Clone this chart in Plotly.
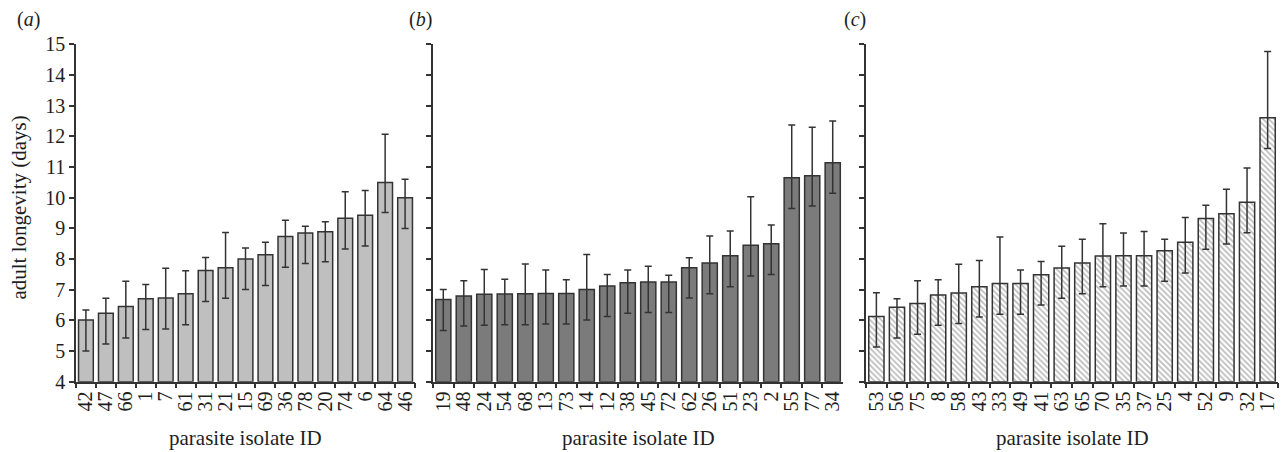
import plotly.graph_objects as go

ids_a = ["42","47","66","1","7","61","31","21","15","69","36","78","20","74","6","64","46"]
mean_a = [6.01,6.23,6.45,6.71,6.73,6.87,7.63,7.72,8.0,8.14,8.74,8.85,8.89,9.33,9.43,10.5,10.0]
up_a = [0.33,0.49,0.83,0.46,0.97,0.75,0.42,1.15,0.36,0.41,0.53,0.22,0.33,0.87,0.81,1.57,0.6]
down_a = [1.01,1.0,1.02,1.01,1.01,1.01,1.01,1.0,0.99,1.0,1.01,0.99,0.98,1.0,1.0,0.98,1.0]

ids_b = ["19","48","24","54","68","13","73","14","12","38","45","72","62","26","51","23","2","55","77","34"]
mean_b = [6.68,6.80,6.85,6.86,6.87,6.88,6.88,7.01,7.12,7.23,7.25,7.25,7.72,7.87,8.11,8.45,8.5,10.65,10.72,11.14]
up_b = [0.33,0.49,0.81,0.48,0.97,0.76,0.45,1.14,0.38,0.41,0.52,0.22,0.32,0.88,0.81,1.58,0.61,1.72,1.58,1.36]
down_b = [1.01,0.98,1.01,1.0,1.01,1.0,1.0,1.0,0.99,1.0,0.99,0.99,0.99,1.0,1.01,1.0,1.0,1.0,0.99,0.99]

ids_c = ["53","56","75","8","58","43","33","49","41","63","65","70","35","37","25","4","52","9","32","17"]
mean_c = [6.13,6.43,6.55,6.83,6.89,7.1,7.2,7.2,7.49,7.71,7.87,8.1,8.11,8.11,8.27,8.55,9.32,9.48,9.85,12.61]
up_c = [0.77,0.28,0.74,0.5,0.94,0.85,1.52,0.44,0.43,0.71,0.78,1.05,0.74,0.79,0.38,0.81,0.44,0.8,1.12,2.16]
down_c = [1.0,1.0,1.0,0.99,0.99,0.99,1.0,1.0,0.99,0.99,1.0,1.0,0.99,0.99,0.99,1.0,1.0,0.99,0.99,1.0]

y_ticks = [4,5,6,7,8,9,10,11,12,13,14,15]
panel_labels = ["a", "b", "c"]
x_title = "parasite isolate ID"
y_title = "adult longevity (days)"

FONT = "Liberation Serif, Times New Roman, serif"
EDGE = "#333333"
TXT = "#1e1e1e"

fig = go.Figure()

panels = [
    (ids_a, mean_a, up_a, down_a, dict(color="#bfbfbf"), "x", "y"),
    (ids_b, mean_b, up_b, down_b, dict(color="#7b7b7b"), "x2", "y2"),
    (ids_c, mean_c, up_c, down_c,
     dict(color="white", pattern=dict(shape="\\", fgcolor="#747474", bgcolor="white", size=4, solidity=0.4)),
     "x3", "y3"),
]

for ids, mean, up, down, mk, xa, ya in panels:
    fig.add_trace(go.Bar(
        x=ids, y=[m - 4 for m in mean], base=4,
        marker=dict(**mk, line=dict(color=EDGE, width=1.5)),
        error_y=dict(type="data", symmetric=False, array=up, arrayminus=down,
                     color=EDGE, thickness=1.5, width=3.5),
        xaxis=xa, yaxis=ya, showlegend=False,
    ))

domains = [(0.0591, 0.323), (0.337, 0.656), (0.674, 0.9945)]
ydom = [0.1555, 0.9016]

layout = dict(
    width=1285, height=452, autosize=False,
    margin=dict(l=0, r=0, t=0, b=0, pad=0),
    paper_bgcolor="white", plot_bgcolor="white",
    bargap=0.26, showlegend=False,
    font=dict(family=FONT, color=TXT),
)
for i, (dom, ids) in enumerate(zip(domains, [ids_a, ids_b, ids_c])):
    sx = "" if i == 0 else str(i + 1)
    layout["xaxis" + sx] = dict(
        domain=list(dom), anchor="y" + sx, type="category",
        tickmode="array", tickvals=ids, ticktext=ids,
        showline=True, linecolor=EDGE, linewidth=1.5,
        ticks="outside", tickson="boundaries", ticklen=5, tickcolor=EDGE, tickwidth=1.5,
        tickangle=-90, tickfont=dict(family=FONT, size=20, color=TXT),
        showgrid=False, zeroline=False, automargin=False,
    )
    layout["yaxis" + sx] = dict(
        domain=ydom, anchor="x" + sx, range=[4, 15],
        tickmode="array", tickvals=y_ticks, showticklabels=(i == 0),
        showline=True, linecolor=EDGE, linewidth=1.5,
        ticks="outside", ticklen=5, tickcolor=EDGE, tickwidth=1.5,
        tickfont=dict(family=FONT, size=20, color=TXT),
        showgrid=False, zeroline=False, automargin=False,
    )
fig.update_layout(**layout)

annotations = []
label_x = [0.0117, 0.3167, 0.6553]
for lbl, lx in zip(panel_labels, label_x):
    annotations.append(dict(
        text="(<i>%s</i>)" % lbl, x=lx, y=0.9558, xref="paper", yref="paper",
        xanchor="left", yanchor="middle", showarrow=False,
        font=dict(family=FONT, size=20, color=TXT),
    ))
for dom in domains:
    annotations.append(dict(
        text=x_title, x=(dom[0] + dom[1]) / 2, y=0.031, xref="paper", yref="paper",
        xanchor="center", yanchor="middle", showarrow=False,
        font=dict(family=FONT, size=21, color=TXT),
    ))
annotations.append(dict(
    text=y_title, x=0.0145, y=0.54, xref="paper", yref="paper",
    xanchor="center", yanchor="middle", textangle=-90, showarrow=False,
    font=dict(family=FONT, size=21, color=TXT),
))
fig.update_layout(annotations=annotations)

fig.write_html(
    "out.html",
    config={"displayModeBar": False},
    post_script="document.body.style.margin='0';document.body.style.padding='0';",
)
